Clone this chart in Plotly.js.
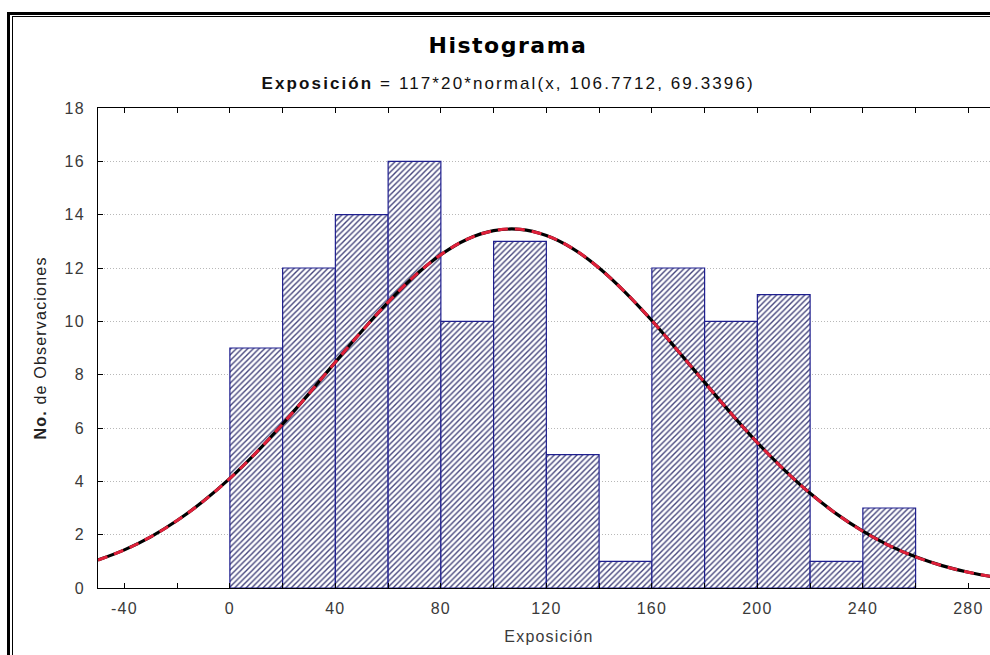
<!DOCTYPE html>
<html>
<head>
<meta charset="utf-8">
<script src="https://cdn.plot.ly/plotly-3.0.1.min.js"></script>
<style>
html, body { margin:0; padding:0; overflow:hidden; background:#fff; width:990px; height:655px; }
#chart { position:absolute; left:0; top:0; width:1000px; height:655px; }
.frame1 { position:absolute; left:7px; top:12px; width:2000px; height:2000px; border-left:3px solid #000; border-top:3px solid #000; pointer-events:none; z-index:5; }
.frame2 { position:absolute; left:12px; top:16px; width:2000px; height:2000px; border-left:1.5px solid #000; border-top:1.5px solid #000; pointer-events:none; z-index:5; }
#chart .gtitle { letter-spacing: 1.5px; }
#chart .annotation-text { letter-spacing: 2.1px; }
#chart .xtick text, #chart .ytick text { letter-spacing: 1.2px; }
#chart .xtitle, #chart .ytitle { letter-spacing: 1.2px; }
</style>
</head>
<body>
<div id="chart"></div>
<div class="frame1"></div>
<div class="frame2"></div>
<script>
// Histogram bins (lower edges) and counts
const binStart = [0, 20, 40, 60, 80, 100, 120, 140, 160, 180, 200, 220, 240];
const counts   = [9, 12, 14, 16, 10, 13, 5, 1, 12, 10, 11, 1, 3];
const binWidth = 20;

// Fitted normal curve
const curveX = [-50,-40,-30,-20,-10,0,10,20,30,40,50,60,70,80,90,100,110,120,130,140,150,160,170,180,190,200,210,220,230,240,250,260,270,280,290];
const curveY = [1.05,1.43,1.92,2.53,3.26,4.11,5.08,6.15,7.29,8.47,9.63,10.72,11.70,12.50,13.08,13.40,13.45,13.22,12.73,12.00,11.08,10.03,8.88,7.71,6.55,5.45,4.45,3.55,2.78,2.13,1.59,1.17,0.84,0.59,0.41];

// Tick labels
const xTickVals = [-40,-20,0,20,40,60,80,100,120,140,160,180,200,220,240,260,280];
const xTickText = ["-40","","0","","40","","80","","120","","160","","200","","240","","280"];
const yTickVals = [0,2,4,6,8,10,12,14,16,18];

const titleText = "Histograma";
const subtitleText = "<b>Exposición</b> = 117*20*normal(x, 106.7712, 69.3396)";
const xTitle = "Exposición";
const yTitle = "<b>No.</b> de Observaciones";

const barX = binStart.map(b => b + binWidth / 2);

const traces = [
  {
    type: 'bar',
    x: barX,
    y: counts,
    width: binWidth,
    marker: {
      color: '#ffffff',
      line: { color: '#1f1f8f', width: 1.2 },
      pattern: { shape: '/', fgcolor: '#45457c', bgcolor: '#ffffff', size: 4, solidity: 0.35 }
    },
    hoverinfo: 'skip',
    showlegend: false
  },
  {
    type: 'scatter', mode: 'lines',
    x: curveX, y: curveY,
    line: { color: '#000000', width: 3.2, shape: 'spline' },
    hoverinfo: 'skip', showlegend: false
  },
  {
    type: 'scatter', mode: 'lines',
    x: curveX, y: curveY,
    line: { color: '#e0203a', width: 3, shape: 'spline', dash: '10px,7px' },
    hoverinfo: 'skip', showlegend: false
  }
];

const tickFont = { family: 'Liberation Sans, Arial, sans-serif', size: 16, color: '#3a3a3a' };

const layout = {
  width: 1000, height: 655,
  margin: { l: 98, r: 0, t: 108, b: 67 },
  paper_bgcolor: '#ffffff',
  plot_bgcolor: '#ffffff',
  bargap: 0,
  title: {
    text: '<b>' + titleText + '</b>',
    x: 0.508, xanchor: 'center',
    y: 1 - 45 / 655, yanchor: 'middle',
    font: { family: 'DejaVu Sans, Arial Black, sans-serif', size: 22, color: '#000000', weight: 900 }
  },
  annotations: [
    {
      text: subtitleText,
      xref: 'paper', yref: 'paper',
      x: (508 - 98) / 902, y: 1 + 25 / 480,
      xanchor: 'center', yanchor: 'middle',
      showarrow: false,
      font: { family: 'Liberation Sans, Arial, sans-serif', size: 17, color: '#111111' }
    }
  ],
  xaxis: {
    range: [-50, 292],
    tickvals: xTickVals,
    ticktext: xTickText,
    ticks: 'inside', ticklen: 5, tickwidth: 1, tickcolor: '#000000',
    showline: true, linecolor: '#000000', linewidth: 1, mirror: 'ticks',
    showgrid: false, zeroline: false,
    tickfont: tickFont,
    ticklabelstandoff: 6,
    title: { text: xTitle, font: { family: 'Liberation Sans, Arial, sans-serif', size: 16, color: '#3a3a3a' }, standoff: 14 }
  },
  yaxis: {
    range: [0, 18],
    tickvals: yTickVals,
    ticks: 'inside', ticklen: 5, tickwidth: 1, tickcolor: '#000000',
    showline: true, linecolor: '#000000', linewidth: 1, mirror: 'ticks',
    showgrid: true, gridcolor: '#b8b8b8', griddash: '1px,2px', gridwidth: 1,
    zeroline: false,
    tickfont: tickFont,
    ticklabelstandoff: 9,
    title: { text: yTitle, font: { family: 'Liberation Sans, Arial, sans-serif', size: 16, color: '#222222' }, standoff: 16 }
  }
};

Plotly.newPlot('chart', traces, layout, { displayModeBar: false, staticPlot: true });
</script>
</body>
</html>
